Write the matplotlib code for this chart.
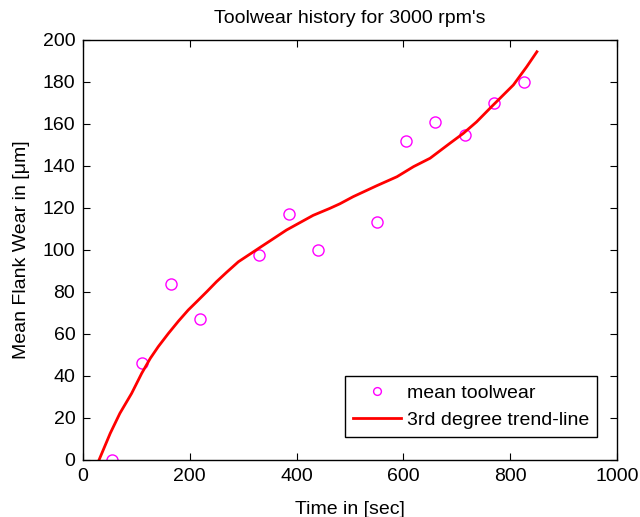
import numpy as np
import matplotlib
matplotlib.use("Agg")
import matplotlib.pyplot as plt

time_s = [55, 110, 165, 220, 330, 385, 440, 550, 605, 660, 715, 770, 825]
wear_um = [0, 46, 84, 67, 97.5, 117, 100, 113.5, 152, 161, 155, 170, 180]

# --- 3rd degree trend-line, sampled off the chart ---
trend_t = [30, 51, 69, 91, 110, 126, 141, 160, 179, 197, 213, 232, 250,
           269, 291, 313, 332, 353, 381, 431, 462, 481, 506, 550, 588,
           619, 650, 687, 712, 737, 768, 806, 831, 850]
trend_w = [0, 12.7, 22.2, 31.7, 41.3, 48.4, 54, 60.3, 66.2, 71.4, 75.4,
           80.2, 84.9, 89.4, 94.4, 98.1, 101.3, 104.8, 109.5, 116.5, 119.8,
           122, 125.4, 130.6, 134.9, 139.7, 143.7, 150.8, 155.5, 161, 169,
           178.6, 187.3, 194.4]

x_ticks = [0, 200, 400, 600, 800, 1000]
y_ticks = [0, 20, 40, 60, 80, 100, 120, 140, 160, 180, 200]

plt.rcParams['font.family'] = ['Liberation Sans', 'DejaVu Sans']
plt.rcParams['font.size'] = 14

fig = plt.figure(figsize=(6.4, 5.17), dpi=100)
ax = fig.add_axes([83 / 640, 57 / 517, 534 / 640, 420 / 517])

ax.plot(time_s, wear_um, 'o', color='magenta', mfc='none', ms=8, mew=1,
        label='mean toolwear')
ax.plot(trend_t, trend_w, '-', color='red', lw=2, label='3rd degree trend-line')

ax.set_xlim(0, 1000)
ax.set_ylim(0, 200)
ax.set_xticks(x_ticks)
ax.set_yticks(y_ticks)
ax.tick_params(direction='in', top=True, right=True, length=5, width=0.8,
               labelsize=14, pad=5.5)
for s in ax.spines.values():
    s.set_linewidth(1)

ax.set_title("Toolwear history for 3000 rpm's", fontsize=14, pad=12)
ax.set_xlabel("Time in [sec]", fontsize=14, labelpad=12)
ax.set_ylabel("Mean Flank Wear in [\u03bcm]", fontsize=14, labelpad=9)

leg = ax.legend(loc='lower right', bbox_to_anchor=(0.963, 0.055), fontsize=14,
                fancybox=False, framealpha=1, edgecolor='black',
                borderaxespad=0, borderpad=0.4, labelspacing=0.5,
                handlelength=2.5, handletextpad=0.3, markerscale=0.7)
leg.get_frame().set_linewidth(1)

fig.savefig("out.png", dpi=100)
